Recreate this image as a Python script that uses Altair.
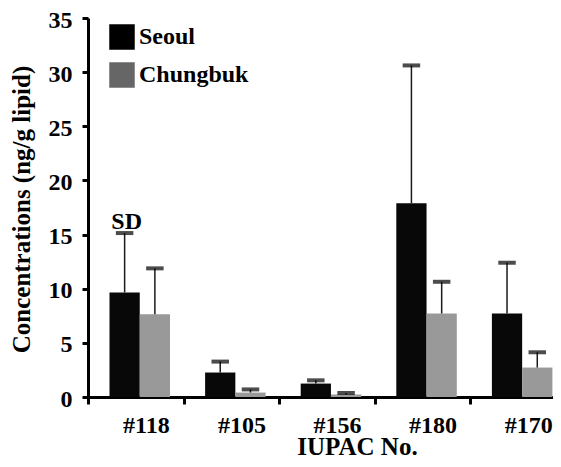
import altair as alt
import pandas as pd

# ---- data ----
categories = ["#118", "#105", "#156", "#180", "#170"]
series = ["Seoul", "Chungbuk"]
seoul_mean = [9.66, 2.26, 1.24, 17.89, 7.71]
seoul_sd = [5.48, 1.01, 0.30, 12.73, 4.69]
chungbuk_mean = [7.65, 0.41, 0.22, 7.71, 2.72]
chungbuk_sd = [4.23, 0.29, 0.15, 2.93, 1.41]
y_ticks = [0, 5, 10, 15, 20, 25, 30, 35]
note_text = "SD"
note_category = "#118"
note_series = "Seoul"

bar_colors = ["#080808", "#999999"]
legend_colors = ["#000000", "#666666"]
FONT = "Liberation Serif"

rows = []
for i, c in enumerate(categories):
    for s, m, sd in (("Seoul", seoul_mean[i], seoul_sd[i]),
                     ("Chungbuk", chungbuk_mean[i], chungbuk_sd[i])):
        rows.append({"cat": c, "series": s, "mean": m, "sd": sd,
                     "note": note_text if (c == note_category and s == note_series) else ""})
df = pd.DataFrame(rows)

x_axis = alt.Axis(
    title="IUPAC No.", labelAngle=0, labelFont=FONT, labelFontSize=24,
    labelFontWeight="bold", labelColor="black", labelOffset=10,
    labelPadding=28, labelBaseline="alphabetic", tickBand="extent",
    tickSize=7, tickWidth=3, tickColor="black", domainColor="black",
    domainWidth=3, grid=False, titleX=269, titleY=57,
    titleBaseline="alphabetic", titleAlign="center", titleFont=FONT,
    titleFontSize=25, titleFontWeight="bold", titleColor="black",
)
y_axis = alt.Axis(
    values=y_ticks, labelFont=FONT, labelFontSize=24, labelFontWeight="bold",
    labelColor="black", labelPadding=10, labelOffset=2, tickSize=6,
    tickWidth=3, tickColor="black", domainColor="black", domainWidth=3,
    grid=False, titleAngle=270, titleX=-59, titleY=191,
    titleBaseline="alphabetic", titleAlign="center", titleFont=FONT,
    titleFontSize=25, titleFontWeight="bold", titleColor="black",
)

X = alt.X("cat:N", sort=categories, title="IUPAC No.",
          scale=alt.Scale(range=[0, 478], paddingInner=0, paddingOuter=0),
          axis=x_axis)
XO = alt.XOffset("series:N", sort=series,
                 scale=alt.Scale(range=[21.5, 82], paddingInner=0, paddingOuter=0))


def Y(field):
    return alt.Y(field, title="Concentrations (ng/g lipid)",
                 scale=alt.Scale(domain=[0, 35], nice=False), axis=y_axis)


base = alt.Chart(df).transform_calculate(upper="datum.mean + datum.sd")

bars = base.mark_bar().encode(
    x=X, xOffset=XO, y=Y("mean:Q"),
    color=alt.Color("series:N", sort=series,
                    scale=alt.Scale(domain=series, range=bar_colors), legend=None),
)

err = base.mark_rule(color="#1a1a1a", strokeWidth=1.5).encode(
    x=X, xOffset=XO, y=Y("mean:Q"), y2="upper:Q"
)

caps = base.mark_tick(color="black", thickness=4, size=17.5).encode(
    x=X, xOffset=XO, y=Y("upper:Q")
)

legend_layer = base.mark_square(opacity=0).encode(
    x=X, xOffset=XO, y=Y("mean:Q"),
    fill=alt.Fill("series:N", sort=series,
                  scale=alt.Scale(domain=series, range=legend_colors),
                  legend=alt.Legend(
                      title=None, orient="none", legendX=21, legendY=6,
                      symbolType="square", symbolSize=650, symbolStrokeWidth=0,
                      symbolOpacity=1, labelFont=FONT, labelFontSize=24,
                      labelFontWeight="bold", labelColor="black",
                      labelOffset=4, rowPadding=12, padding=0,
                  )),
)

note = base.transform_filter("datum.note != ''").mark_text(
    font=FONT, fontSize=24, fontWeight="bold", color="black",
    baseline="alphabetic", dy=-4, dx=2,
).encode(x=X, xOffset=XO, y=Y("upper:Q"), text="note:N")

chart = alt.layer(legend_layer, bars, err, caps, note).properties(
    width=465, height=379,
    padding={"left": 80, "top": 10, "right": 0, "bottom": 62},
    autosize=alt.AutoSizeParams(type="none"),
).configure_view(stroke=None)

chart.save("out.html", embed_options={"renderer": "svg", "actions": False})
